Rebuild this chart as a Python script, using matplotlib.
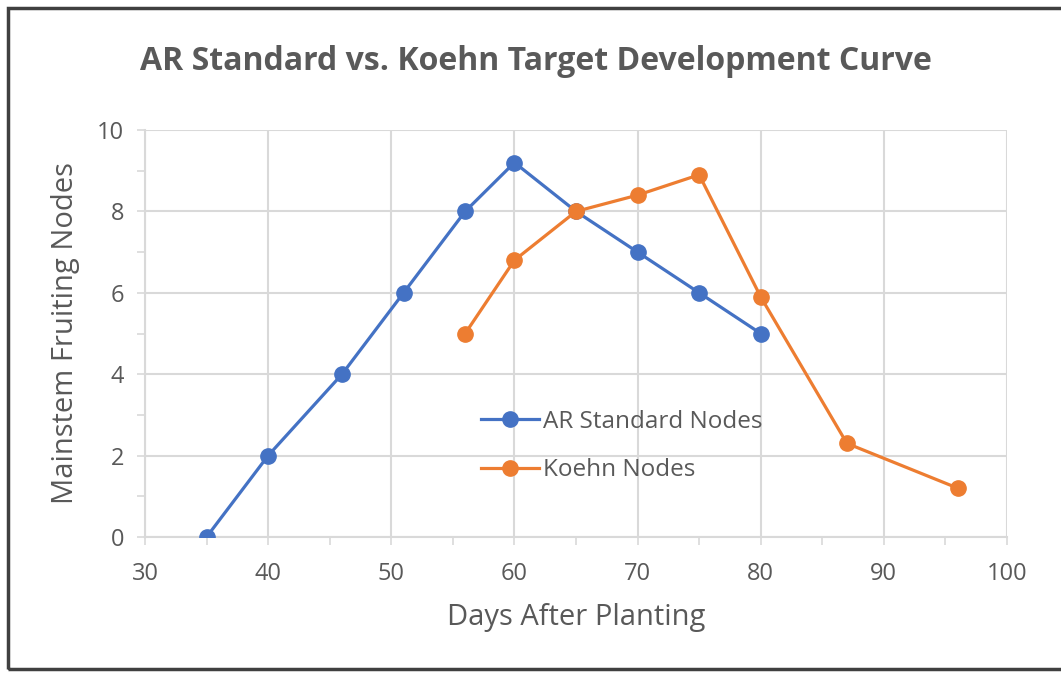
import matplotlib.pyplot as plt
from matplotlib.patches import Rectangle
from matplotlib.ticker import MultipleLocator

# Data
ar_days = [35, 40, 46, 51, 56, 60, 65, 70, 75, 80]
ar_nodes = [0, 2, 4, 6, 8, 9.2, 8, 7, 6, 5]
koehn_days = [56, 60, 65, 70, 75, 80, 87, 96]
koehn_nodes = [5, 6.8, 8, 8.4, 8.9, 5.9, 2.3, 1.2]

blue = "#4472C4"
orange = "#ED7D31"
grey_text = "#595959"
grid_col = "#D9D9D9"

plt.rcParams["font.family"] = ["Open Sans", "DejaVu Sans"]

fig = plt.figure(figsize=(10.61, 6.75), dpi=100)
ax = fig.add_axes([145 / 1061, 138 / 675, 862 / 1061, 407 / 675])

ax.plot(ar_days, ar_nodes, color=blue, lw=2.3, marker="o", ms=11,
        label="AR Standard Nodes", zorder=3)
ax.plot(koehn_days, koehn_nodes, color=orange, lw=2.3, marker="o", ms=11,
        label="Koehn Nodes", zorder=3)

ax.set_xlim(30, 100)
ax.set_ylim(0, 10)
ax.xaxis.set_major_locator(MultipleLocator(10))
ax.xaxis.set_minor_locator(MultipleLocator(5))
ax.yaxis.set_major_locator(MultipleLocator(2))
ax.yaxis.set_minor_locator(MultipleLocator(1))

ax.grid(True, which="major", color=grid_col, lw=1.5, zorder=0)
for s in ["top", "right"]:
    ax.spines[s].set_visible(False)
for s in ["left", "bottom"]:
    ax.spines[s].set_color(grid_col)
    ax.spines[s].set_linewidth(1.5)

ax.tick_params(which="both", direction="out", length=6, width=1.2,
               color=grid_col, labelcolor=grey_text, labelsize=17)
ax.tick_params(axis="x", pad=12)
ax.tick_params(axis="y", pad=9)

ax.set_xlabel("Days After Planting", fontsize=21, color=grey_text, labelpad=12)
ax.set_ylabel("Mainstem Fruiting Nodes", fontsize=21, color=grey_text, labelpad=12)

fig.text(536 / 1061, 613 / 675, "AR Standard vs. Koehn Target Development Curve",
         ha="center", va="center", fontsize=23, fontweight="bold", color=grey_text)

ax.legend(loc="upper left", bbox_to_anchor=(481 / 1061, 1 - 410 / 675),
          bbox_transform=fig.transFigure, frameon=False, fontsize=17.5,
          labelcolor=grey_text, handlelength=2.4, handletextpad=0.15,
          borderpad=0, borderaxespad=0, labelspacing=1.0)

# Outer chart border
fig.patches.append(Rectangle((8 / 1061, 6 / 675), 1.0, 661 / 675,
                             transform=fig.transFigure, fill=False,
                             edgecolor="#404040", lw=2.5))

fig.savefig("out.png", dpi=100)
